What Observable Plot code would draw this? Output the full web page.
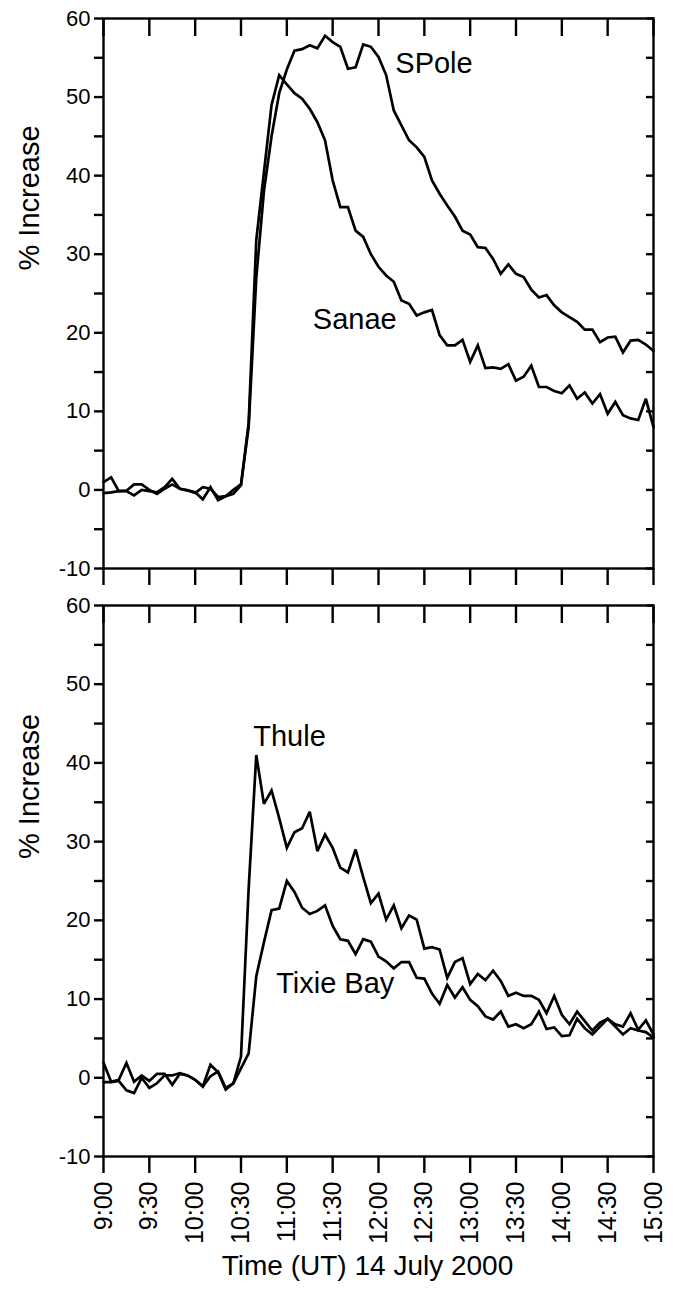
<!DOCTYPE html>
<html>
<head>
<meta charset="utf-8">
<script src="https://cdn.jsdelivr.net/npm/d3@7"></script>
<script src="https://cdn.jsdelivr.net/npm/@observablehq/plot@0.6"></script>
<style>
  body { margin: 0; background: #fff; }
  #chart svg { display: block; }
</style>
</head>
<body>
<div id="chart"></div>
<script>
// ---- data (5-minute samples, 9:00 to 15:00 UT, 14 July 2000) ----
const timeLabels = [
  "9:00","9:05","9:10","9:15","9:20","9:25","9:30","9:35","9:40","9:45","9:50","9:55",
  "10:00","10:05","10:10","10:15","10:20","10:25","10:30","10:35","10:40","10:45","10:50","10:55",
  "11:00","11:05","11:10","11:15","11:20","11:25","11:30","11:35","11:40","11:45","11:50","11:55",
  "12:00","12:05","12:10","12:15","12:20","12:25","12:30","12:35","12:40","12:45","12:50","12:55",
  "13:00","13:05","13:10","13:15","13:20","13:25","13:30","13:35","13:40","13:45","13:50","13:55",
  "14:00","14:05","14:10","14:15","14:20","14:25","14:30","14:35","14:40","14:45","14:50","14:55",
  "15:00"
];

const spole = [
  -0.4,-0.3,-0.15,-0.1,0.7,0.7,0.0,-0.5,0.15,0.7,0.15,-0.05,-0.4,0.35,0.15,-0.9,-0.8,0.0,0.7,
  8,27,38,45,50.5,53.5,55.9,56.1,56.6,56.2,57.8,57,56.4,53.6,53.8,56.7,56.4,55.1,52.8,48.3,
  46.4,44.5,43.6,42.4,39.4,37.7,36.2,34.8,33,32.5,30.9,30.8,29.4,27.5,28.7,27.5,27.1,25.5,
  24.5,24.8,23.5,22.6,22,21.4,20.4,20.4,18.8,19.4,19.5,17.5,19,19.1,18.5,17.7
];
const sanae = [
  1.0,1.6,-0.15,-0.15,-0.7,0.0,-0.15,-0.3,0.35,1.4,0.15,-0.05,-0.3,-1.2,0.35,-1.3,-0.8,-0.5,0.6,
  8.5,31.8,40.4,49,52.8,51.6,50.5,49.8,48.5,46.8,44.5,39.4,36,36,33,32.2,30,28.4,27.3,26.5,
  24.1,23.7,22.2,22.6,22.9,19.7,18.4,18.4,19.1,16.3,18.4,15.5,15.6,15.4,16,13.9,14.4,15.8,
  13.1,13.1,12.6,12.3,13.3,11.6,12.4,11,12.2,9.7,11.2,9.5,9.1,8.9,11.6,8.0
];
const thule = [
  1.9,-0.5,-0.25,1.9,-0.5,0.3,-0.4,0.5,0.5,-0.9,0.5,0.3,-0.25,-1.1,1.65,0.7,-1.5,-0.7,2.7,
  24,41,34.8,36.5,33,29.2,31.2,31.7,33.8,28.8,30.9,29.2,26.7,26.1,29,25.5,22.2,23.4,20.1,21.9,
  19,20.6,20.1,16.4,16.6,16.3,12.7,14.7,15.2,11.9,13.2,12.4,13.6,12.3,10.4,10.8,10.4,10.4,
  9.9,8.2,10.4,8,6.8,8.4,7.2,6,7,7.5,6.8,6.5,8.2,6.1,7.3,5.5
];
const tixie = [
  -0.55,-0.55,-0.4,-1.6,-1.95,0.0,-1.3,-0.7,0.3,0.3,0.6,0.3,-0.25,-1.1,0.2,0.8,-1.3,-0.7,1.2,
  3.1,12.9,17.2,21.3,21.5,25,23.6,21.6,20.8,21.2,21.9,19.3,17.6,17.4,15.7,17.6,17.3,15.4,14.8,13.9,
  14.7,14.7,12.7,12.6,10.7,9.4,11.8,10.2,11.5,9.9,9.1,7.8,7.4,8.4,6.5,6.8,6.3,6.8,
  8.4,6.2,6.4,5.3,5.4,7.5,6.3,5.5,6.5,7.5,6.5,5.5,6.3,6,5.8,5.1
];

const topSeries = ["SPole", "Sanae"];
const bottomSeries = ["Thule", "Tixie Bay"];

// series name labels, placed in data coordinates
const topNotes = [
  {name: "SPole", time: "12:11", value: 54.2},
  {name: "Sanae", time: "11:17", value: 21.7}
];
const bottomNotes = [
  {name: "Thule", time: "10:38", value: 43.3},
  {name: "Tixie Bay", time: "10:53", value: 12.0}
];

const xTickLabels = ["9:00","9:30","10:00","10:30","11:00","11:30","12:00","12:30","13:00","13:30","14:00","14:30","15:00"];
const yTicks = [-10,-5,0,5,10,15,20,25,30,35,40,45,50,55,60];
const xStart = "9:00", xEnd = "15:00";
const yMin = -10, yMax = 60;
const yLabel = "% Increase";
const xLabel = "Time (UT) 14 July 2000";

// ---- drawing ----
const FONT = "'Liberation Sans', Arial, Helvetica, sans-serif";
const parseT = d3.utcParse("%H:%M");
const fmtT = d3.utcFormat("%-H:%M");
const xTicks = xTickLabels.map(parseT);
const AXW = 2.4;

function makeRows(names, arrays) {
  return names.flatMap((name, k) =>
    timeLabels.map((t, i) => ({series: name, time: parseT(t), value: arrays[k][i]})));
}

function panel({rows, notes, height, marginTop, marginBottom, labelDy, showX}) {
  return Plot.plot({
    width: 673,
    height,
    marginLeft: 103,
    marginRight: 20,
    marginTop,
    marginBottom,
    style: {fontFamily: FONT, fontSize: "22px", color: "#000", background: "#fff", overflow: "visible"},
    x: {type: "utc", domain: [parseT(xStart), parseT(xEnd)]},
    y: {domain: [yMin, yMax]},
    marks: [
      Plot.axisY(yTicks, {anchor: "left", tickSize: 9, tickPadding: 4, strokeWidth: AXW,
        tickFormat: d => (d % 10 === 0 ? String(d) : ""), fontSize: 22, label: null}),
      Plot.axisY(yTicks, {anchor: "right", tickSize: 8, dx: -8, strokeWidth: AXW,
        tickFormat: () => "", label: null}),
      Plot.axisX(xTicks, {anchor: "top", tickSize: 17, dy: 17, strokeWidth: AXW,
        tickFormat: () => "", label: null}),
      showX
        ? Plot.axisX(xTicks, {anchor: "bottom", tickSize: 17, tickPadding: 8, tickRotate: -90,
            strokeWidth: AXW, tickFormat: fmtT, fontSize: 25, label: null})
        : Plot.axisX(xTicks, {anchor: "bottom", tickSize: 17, strokeWidth: AXW,
            tickFormat: () => "", label: null}),
      Plot.frame({stroke: "#000", strokeWidth: AXW}),
      Plot.line(rows, {x: "time", y: "value", z: "series", stroke: "#000",
        strokeWidth: 2.7, strokeLinejoin: "miter", strokeMiterlimit: 3}),
      Plot.text(notes, {x: d => parseT(d.time), y: "value", text: "name",
        textAnchor: "start", lineAnchor: "middle", fontSize: 29, fill: "#000"}),
      Plot.text([yLabel], {text: d => d, frameAnchor: "left", dx: -74, dy: labelDy,
        rotate: -90, fontSize: 29, lineAnchor: "middle", fill: "#000"}),
      showX
        ? Plot.text([xLabel], {text: d => d, frameAnchor: "bottom", dx: -11, dy: 110,
            fontSize: 28, lineAnchor: "middle", fill: "#000"})
        : null
    ]
  });
}

const chart = document.getElementById("chart");
chart.append(panel({
  rows: makeRows(topSeries, [spole, sanae]),
  notes: topNotes,
  height: 586, marginTop: 18, marginBottom: 18, labelDy: -23, showX: false
}));
chart.append(panel({
  rows: makeRows(bottomSeries, [thule, tixie]),
  notes: bottomNotes,
  height: 704, marginTop: 19, marginBottom: 134, labelDy: -22, showX: true
}));
</script>
</body>
</html>
